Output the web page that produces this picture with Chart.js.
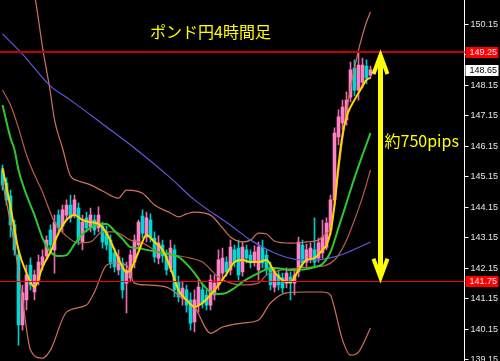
<!DOCTYPE html>
<html>
<head>
<meta charset="utf-8">
<script src="https://cdn.jsdelivr.net/npm/chart.js@4.4.0/dist/chart.umd.min.js"></script>
<style>
  html, body { margin: 0; padding: 0; background: #000; }
</style>
</head>
<body>
<canvas id="gbpjpyChart" width="500" height="361"></canvas>
<script>
// GBP/JPY 4h candles (oldest -> newest)
const open = [145.38,144.95,144.53,143.58,142.59,140.30,141.12,142.26,141.38,141.77,
  142.26,142.56,143.41,142.76,143.90,143.54,143.90,144.23,143.90,144.13,
  143.02,143.81,143.51,143.74,143.48,143.54,143.35,143.08,142.66,142.10,
  142.33,141.67,141.84,142.36,142.92,143.87,143.18,143.74,143.15,142.49,
  142.92,142.56,142.17,142.76,141.71,141.18,141.45,141.12,140.40,140.95,
  141.45,141.28,140.95,141.28,141.61,142.00,142.36,142.10,142.76,142.82,
  142.04,142.76,142.59,142.36,142.10,142.85,142.59,142.20,141.54,141.94,
  141.84,141.67,141.87,141.67,142.04,142.92,142.36,142.49,142.76,142.49,
  142.66,142.85,143.41,144.40,146.46,146.92,147.02,147.77,148.72,148.00,
  148.26,148.79,148.49];
const high = [145.54,145.12,144.72,143.74,142.76,141.61,142.26,142.49,142.10,142.59,
  142.76,143.22,143.58,143.90,144.07,144.23,144.40,144.56,144.56,144.30,
  143.90,144.00,144.13,143.90,144.17,143.67,143.54,143.25,142.82,142.76,
  142.49,142.36,142.76,143.25,143.74,144.07,144.00,143.94,143.35,143.22,
  143.08,142.76,143.08,142.92,141.90,141.71,141.61,141.35,141.45,141.77,
  141.61,141.45,141.94,141.94,142.76,142.82,142.53,143.08,142.92,143.08,
  143.02,142.92,142.76,142.89,143.02,143.08,142.76,142.36,142.17,142.10,
  142.00,142.17,142.04,142.10,143.18,143.08,142.95,142.99,143.81,143.15,
  143.74,143.81,144.56,146.76,147.35,147.67,147.94,148.92,148.99,149.25,
  149.05,148.99,148.79];
const low = [144.72,144.23,143.18,142.59,139.64,140.13,140.79,141.45,141.12,141.61,
  142.10,142.43,142.76,142.00,143.25,143.35,143.74,143.67,143.81,142.92,
  142.76,143.35,143.35,143.25,143.35,142.82,142.76,142.17,142.04,141.94,
  141.18,140.69,141.71,142.17,142.76,143.15,143.02,143.02,142.36,142.30,
  142.36,141.94,142.04,141.22,141.05,140.95,140.72,140.13,140.07,140.72,
  140.86,140.79,140.79,141.12,141.45,141.84,141.90,141.94,142.20,141.77,
  141.90,142.33,142.17,142.23,141.77,142.17,141.94,141.45,141.38,141.45,
  141.35,141.51,141.12,141.28,141.87,142.17,142.20,142.33,142.17,142.36,
  142.49,142.76,143.25,144.23,146.20,146.69,146.85,147.61,147.81,147.67,
  148.07,148.20,148.40];
const close = [144.89,144.40,143.58,142.76,140.30,141.35,141.94,141.61,141.94,142.36,
  142.53,143.08,142.92,143.67,143.48,144.07,144.23,143.81,144.40,143.08,
  143.67,143.48,143.90,143.41,143.90,143.02,142.92,142.36,142.20,142.53,
  141.45,142.10,142.59,143.08,143.67,143.31,143.81,143.18,142.53,142.99,
  142.56,142.10,142.82,141.45,141.22,141.51,140.95,140.36,141.12,141.54,
  141.02,140.95,141.77,141.67,142.43,142.49,142.04,142.85,142.36,141.94,
  142.85,142.49,142.33,142.69,142.85,142.33,142.10,141.61,142.00,141.61,
  141.51,142.00,141.67,141.94,143.02,142.33,142.76,142.82,142.36,142.99,
  143.18,143.64,144.40,146.59,147.12,147.44,147.67,148.66,148.00,148.82,
  148.82,148.40,148.66];

// indicator lines: [candle index, price]
const maFast = [[0,145.45],[2,144.17],[4,142.76],[6,142.00],[8,141.54],[10,142.20],[12,142.69],
  [14,143.31],[16,143.74],[18,143.90],[20,143.74],[22,143.67],[24,143.61],[26,143.31],[28,142.76],
  [30,142.20],[31,142.03],[32,142.10],[34,142.69],[36,143.25],[38,143.02],[40,142.76],[42,142.17],
  [44,141.44],[46,141.12],[48,140.89],[50,141.02],[52,141.28],[54,141.61],[56,141.97],[58,142.36],
  [60,142.43],[62,142.36],[64,142.36],[66,142.43],[68,142.03],[70,141.77],[72,141.70],[74,142.10],
  [76,142.43],[78,142.49],[80,142.76],[81,142.92],[82,143.34],[83,144.23],[84,145.54],[85,146.53],
  [86,147.12],[87,147.44],[89,147.90],[91,148.33],[92,148.40]];
const maMid = [[0,147.51],[2,146.43],[3,146.04],[4,145.38],[6,144.56],[8,143.90],[10,143.15],[12,142.69],
  [14,142.56],[16,142.59],[18,142.95],[20,143.28],[22,143.48],[24,143.61],[26,143.61],[28,143.38],
  [30,143.12],[32,142.85],[34,142.82],[36,142.76],[40,142.66],[44,142.53],[46,142.30],[48,142.00],
  [50,141.64],[52,141.38],[54,141.31],[56,141.35],[58,141.51],[60,141.71],[62,141.87],[64,142.00],
  [66,142.13],[68,142.17],[72,142.10],[76,142.13],[78,142.20],[80,142.30],[82,142.69],[84,143.48],
  [86,144.30],[88,145.12],[90,145.87],[92,146.59]];
const maSlow = [[0,149.84],[5,149.18],[12,148.13],[17,147.67],[25,146.89],[33,146.10],[42,145.12],
  [48,144.40],[57,143.57],[62,143.08],[68,142.66],[73,142.46],[78,142.43],[83,142.53],[87,142.72],[92,143.02]];
const bbUpper = [[0,151.94],[4,152.27],[6,151.94],[8,151.12],[10,149.41],[12,147.90],[13,147.02],
  [15,146.10],[17,145.18],[19,145.02],[22,144.89],[25,144.69],[29,144.46],[31,144.72],[35,144.62],
  [38,144.23],[42,143.97],[44,143.84],[46,143.94],[48,144.00],[52,143.90],[55,143.48],[57,143.18],
  [60,143.02],[62,143.08],[64,143.31],[66,143.28],[68,143.05],[72,142.98],[76,143.02],[79,143.08],
  [81,143.31],[82,143.48],[83,144.23],[84,145.31],[85,146.36],[86,147.28],[87,148.07],[88,148.72],
  [89,149.31],[90,149.80],[91,150.23],[92,150.56]];
const bbMiddle = [[0,148.00],[2,147.51],[4,146.76],[6,145.87],[8,145.22],[10,144.66],[13,143.67],
  [16,143.21],[19,142.99],[22,143.02],[25,143.35],[28,143.35],[32,143.08],[35,142.99],[39,142.69],
  [43,142.59],[47,142.49],[50,142.36],[54,141.87],[57,141.67],[60,141.61],[64,141.67],[66,141.94],
  [70,142.10],[74,142.17],[78,142.20],[81,142.26],[83,142.43],[84,142.59],[86,143.08],[88,143.74],
  [90,144.49],[92,145.38]];
const bbLower = [[0,144.98],[3,142.92],[5,141.12],[7,139.48],[10,139.21],[12,139.48],[16,140.72],
  [21,140.95],[23,141.38],[26,142.26],[28,142.33],[31,142.26],[33,141.67],[36,141.61],[41,141.54],
  [45,141.18],[48,140.89],[52,140.03],[55,140.23],[60,140.36],[64,140.46],[67,141.02],[71,141.35],
  [76,141.38],[80,141.38],[82,141.28],[83,140.85],[85,139.81],[87,139.31],[89,139.41],[92,140.20]];

const yTicks = [139.15,140.15,141.15,142.15,143.15,144.15,145.15,146.15,147.15,148.15,149.15,150.15];
const resistance = 149.25;
const support = 141.75;
const lastPrice = 148.65;
const title = 'ポンド円4時間足';
const rangeNote = '約750pips';

const slots = 116; // candles plus empty space on the right
const labels = Array.from({ length: slots }, (_, k) => k);

const up = close.map((c, k) => c >= open[k]);
const bodyColors = up.map(u => u ? '#ff80c4' : '#00d8d8');
const wickColors = up.map(u => u ? '#e86aaa' : '#00c8c8');

function lineSet(points, color, width) {
  return {
    type: 'line',
    data: points.map(([x, y]) => ({ x, y })),
    borderColor: color,
    borderWidth: width,
    pointRadius: 0,
    cubicInterpolationMode: 'monotone',
    order: 0
  };
}

const overlay = {
  id: 'overlay',
  afterDatasetsDraw(chart) {
    const { ctx, chartArea: a, scales: { y } } = chart;
    ctx.save();
    let py = Math.round(y.getPixelForValue(resistance));
    ctx.strokeStyle = '#c40000';
    ctx.lineWidth = 2;
    ctx.beginPath(); ctx.moveTo(0, py); ctx.lineTo(a.right, py); ctx.stroke();
    py = Math.round(y.getPixelForValue(support)) + 0.5;
    ctx.strokeStyle = '#ff0000';
    ctx.lineWidth = 1;
    ctx.beginPath(); ctx.moveTo(0, py); ctx.lineTo(a.right, py); ctx.stroke();
    ctx.restore();
  },
  afterDraw(chart) {
    const { ctx, chartArea: a, scales: { x, y } } = chart;
    ctx.save();

    // price boxes on the axis
    const box = (v, bg, fg) => {
      const py = Math.round(y.getPixelForValue(v));
      ctx.fillStyle = bg;
      ctx.fillRect(a.right + 1, py - 5, 33, 11);
      ctx.fillStyle = fg;
      ctx.font = '9px "Liberation Sans"';
      ctx.textAlign = 'left';
      ctx.textBaseline = 'middle';
      ctx.fillText(v.toFixed(2), a.right + 5, py + 1);
    };
    box(resistance, '#ff0000', '#ffe8e8');
    box(lastPrice, '#ffffff', '#000000');
    box(support, '#ff0000', '#ffe8e8');

    // double arrow between the two levels
    const ax = x.getPixelForValue(94.5);
    const yt = y.getPixelForValue(resistance) + 1;
    const yb = y.getPixelForValue(support) - 1;
    ctx.strokeStyle = '#ffff00';
    ctx.lineWidth = 5;
    ctx.beginPath(); ctx.moveTo(ax, yt + 4); ctx.lineTo(ax, yb - 4); ctx.stroke();
    ctx.lineWidth = 4;
    ctx.lineJoin = 'miter';
    ctx.beginPath(); ctx.moveTo(ax - 7, yt + 21); ctx.lineTo(ax, yt + 2); ctx.lineTo(ax + 7, yt + 21); ctx.stroke();
    ctx.beginPath(); ctx.moveTo(ax - 7, yb - 21); ctx.lineTo(ax, yb - 2); ctx.lineTo(ax + 7, yb - 21); ctx.stroke();

    // texts
    ctx.fillStyle = '#ffff00';
    ctx.textAlign = 'left';
    ctx.textBaseline = 'middle';
    ctx.font = '16px "Noto Sans CJK JP"';
    ctx.fillText(rangeNote, ax + 4, y.getPixelForValue(146.33));
    ctx.fillText(title, 150, 32);
    ctx.restore();
  }
};

new Chart(document.getElementById('gbpjpyChart'), {
  type: 'bar',
  data: {
    labels: labels,
    datasets: [
      lineSet(maFast, '#ffd400', 2),
      lineSet(maMid, '#2ec82e', 2),
      lineSet(maSlow, '#5e5ae0', 1.2),
      lineSet(bbUpper, '#d0705e', 1.2),
      lineSet(bbMiddle, '#b85c4c', 1.2),
      lineSet(bbLower, '#d0705e', 1.2),
      {
        data: open.map((o, k) => [o, close[k]]),
        backgroundColor: bodyColors,
        borderWidth: 0,
        barThickness: 3,
        grouped: false,
        order: 5
      },
      {
        data: low.map((l, k) => [l, high[k]]),
        backgroundColor: wickColors,
        borderWidth: 0,
        barThickness: 1,
        grouped: false,
        order: 6
      }
    ]
  },
  options: {
    responsive: false,
    animation: false,
    devicePixelRatio: 1,
    layout: { padding: { left: 0.5, top: 0, right: 0, bottom: 0 } },
    plugins: { legend: { display: false }, tooltip: { enabled: false } },
    scales: {
      x: { display: false, offset: true, grid: { display: false } },
      y: {
        position: 'right',
        min: 139.117,
        max: 150.953,
        afterBuildTicks: s => { s.ticks = yTicks.map(v => ({ value: v })); },
        afterFit: s => { s.width = 35.5; s.paddingTop = 0; s.paddingBottom = 0; },
        ticks: {
          color: '#e6e6e6',
          font: { family: 'Liberation Sans', size: 9 },
          padding: 2,
          autoSkip: false,
          maxRotation: 0,
          callback: v => Number(v).toFixed(2)
        },
        grid: { drawOnChartArea: false, color: '#ffffff', tickLength: 4 },
        border: { color: '#ffffff', width: 1 }
      }
    }
  },
  plugins: [overlay]
});
</script>
</body>
</html>
